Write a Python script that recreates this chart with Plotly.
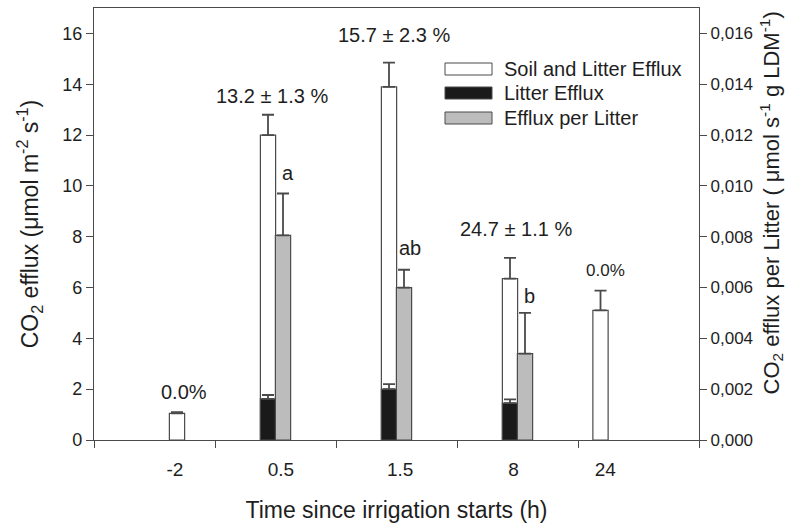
import plotly.graph_objects as go

# ---- data ----
categories = ["-2", "0.5", "1.5", "8", "24"]
soil_litter = [1.05, 12.0, 13.9, 6.35, 5.1]
soil_litter_err = [0.05, 0.8, 0.95, 0.82, 0.78]
litter_cats = ["0.5", "1.5", "8"]
litter = [1.62, 2.0, 1.45]
litter_err = [0.15, 0.2, 0.15]
per_litter = [0.00805, 0.0060, 0.0034]
per_litter_err = [0.00165, 0.0007, 0.0016]
pct_labels = ["0.0%", "13.2 ± 1.3 %", "15.7 ± 2.3 %", "24.7 ± 1.1 %", "0.0%"]
letters = ["a", "ab", "b"]
right_ticks = [0, 0.002, 0.004, 0.006, 0.008, 0.010, 0.012, 0.014, 0.016]

# ---- layout constants (category slot units, 1 slot per category) ----
white_pos = {"-2": 0.686, "0.5": 1.438, "1.5": 2.438, "8": 3.438, "24": 4.186}
gray_pos = {"0.5": 1.562, "1.5": 2.562, "8": 3.562}
label_pos = [0.669, 1.545, 2.53, 3.467, 4.225]
BW = 0.126
FONT = "Liberation Sans, Arial, sans-serif"
TXT = "#1e1e1e"
LINE = "#4a4a4a"

fig = go.Figure()

fig.add_trace(go.Bar(
    x=[white_pos[c] for c in categories], y=soil_litter, width=BW,
    marker=dict(color="white", line=dict(color=LINE, width=1.2)),
    error_y=dict(type="data", array=soil_litter_err, arrayminus=[0]*5, symmetric=False,
                 color=LINE, thickness=1.8, width=6),
    name="Soil and Litter Efflux", xaxis="x", yaxis="y"))

fig.add_trace(go.Bar(
    x=[white_pos[c] for c in litter_cats], y=litter, width=BW,
    marker=dict(color="#1a1a1a", line=dict(color=LINE, width=1.2)),
    error_y=dict(type="data", array=litter_err, arrayminus=[0]*3, symmetric=False,
                 color=LINE, thickness=1.8, width=6),
    name="Litter Efflux", xaxis="x", yaxis="y"))

fig.add_trace(go.Bar(
    x=[gray_pos[c] for c in litter_cats], y=per_litter, width=BW,
    marker=dict(color="#bcbcbc", line=dict(color=LINE, width=1.2)),
    error_y=dict(type="data", array=per_litter_err, arrayminus=[0]*3, symmetric=False,
                 color=LINE, thickness=1.8, width=6),
    name="Efflux per Litter", xaxis="x", yaxis="y2"))

# invisible trace to activate tick axis
fig.add_trace(go.Scatter(x=[0, 5], y=[0, 0], mode="markers", marker=dict(opacity=0),
                         xaxis="x2", yaxis="y", hoverinfo="skip", showlegend=False))

ann = []
pct_xy = [(0.744, 1.9, 20), (1.475, 13.54, 20), (2.483, 15.94, 20), (3.488, 8.29, 20), (4.231, 6.66, 17)]
for (x, y, s), t in zip(pct_xy, pct_labels):
    ann.append(dict(x=x, y=y, xref="x", yref="y", text=t, showarrow=False,
                    font=dict(family=FONT, size=s, color=TXT)))
letter_xy = [(1.603, 10.5), (2.612, 7.56), (3.595, 5.67)]
for (x, y), t in zip(letter_xy, letters):
    ann.append(dict(x=x, y=y, xref="x", yref="y", text=t, showarrow=False,
                    font=dict(family=FONT, size=20, color=TXT)))

# manual legend
L, T, W, H = 94, 8, 605, 432
def px(xp): return (xp - L) / W
def py(yp): return (T + H - yp) / H
shapes = []
leg = [("Soil and Litter Efflux", "white", 69), ("Litter Efflux", "#1a1a1a", 93), ("Efflux per Litter", "#bcbcbc", 118)]
for name, col, yc in leg:
    shapes.append(dict(type="rect", xref="paper", yref="paper", x0=px(445), x1=px(492),
                       y0=py(yc + 6), y1=py(yc - 6), fillcolor=col, line=dict(color=LINE, width=1)))
    ann.append(dict(x=px(502), y=py(yc), xref="paper", yref="paper", text=name, showarrow=False,
                    xanchor="left", yanchor="middle", font=dict(family=FONT, size=20, color=TXT)))

ann.append(dict(x=px(789), y=py(203), xref="paper", yref="paper",
                text="CO<sub>2</sub> efflux per Litter ( μmol s<sup>-1</sup> g LDM<sup>-1</sup>)",
                textangle=-90, showarrow=False, font=dict(family=FONT, size=22, color=TXT)))

fig.update_layout(
    width=801, height=527, margin=dict(l=94, r=102, t=8, b=87),
    paper_bgcolor="white", plot_bgcolor="white", barmode="overlay", showlegend=False,
    separators=",.",
    font=dict(family=FONT, color=TXT),
    xaxis=dict(range=[0, 5], tickvals=label_pos, ticktext=categories, ticks="",
               ticklabelstandoff=12,
               showline=True, linecolor=LINE, linewidth=1.2, mirror=True, showgrid=False,
               zeroline=False, tickfont=dict(size=19, family=FONT, color=TXT),
               title=dict(text="Time since irrigation starts (h)", standoff=22,
                          font=dict(size=23, family=FONT, color=TXT))),
    xaxis2=dict(range=[0, 5], overlaying="x", anchor="y", side="bottom", tickvals=[0, 1, 2, 3, 4, 5],
                ticks="outside", ticklen=7, tickcolor=LINE, tickwidth=1.2, showticklabels=False,
                showgrid=False, zeroline=False, showline=False),
    yaxis=dict(range=[0, 17], tickvals=list(range(0, 17, 2)), ticks="outside", ticklen=7,
               tickcolor=LINE, tickwidth=1.2, showline=True, linecolor=LINE, linewidth=1.2,
               showgrid=False, zeroline=False, tickfont=dict(size=18, family=FONT, color=TXT),
               title=dict(text="CO<sub>2</sub> efflux (μmol m<sup>-2</sup> s<sup>-1</sup>)", standoff=17,
                          font=dict(size=23, family=FONT, color=TXT))),
    yaxis2=dict(range=[0, 0.017], overlaying="y", side="right", tickvals=right_ticks,
                tickformat=".3f", ticks="outside", ticklen=7, tickcolor=LINE, tickwidth=1.2,
                showline=True, linecolor=LINE, linewidth=1.2, showgrid=False, zeroline=False,
                tickfont=dict(size=17, family=FONT, color=TXT)),
    annotations=ann, shapes=shapes,
)

fig.write_html("out.html")
